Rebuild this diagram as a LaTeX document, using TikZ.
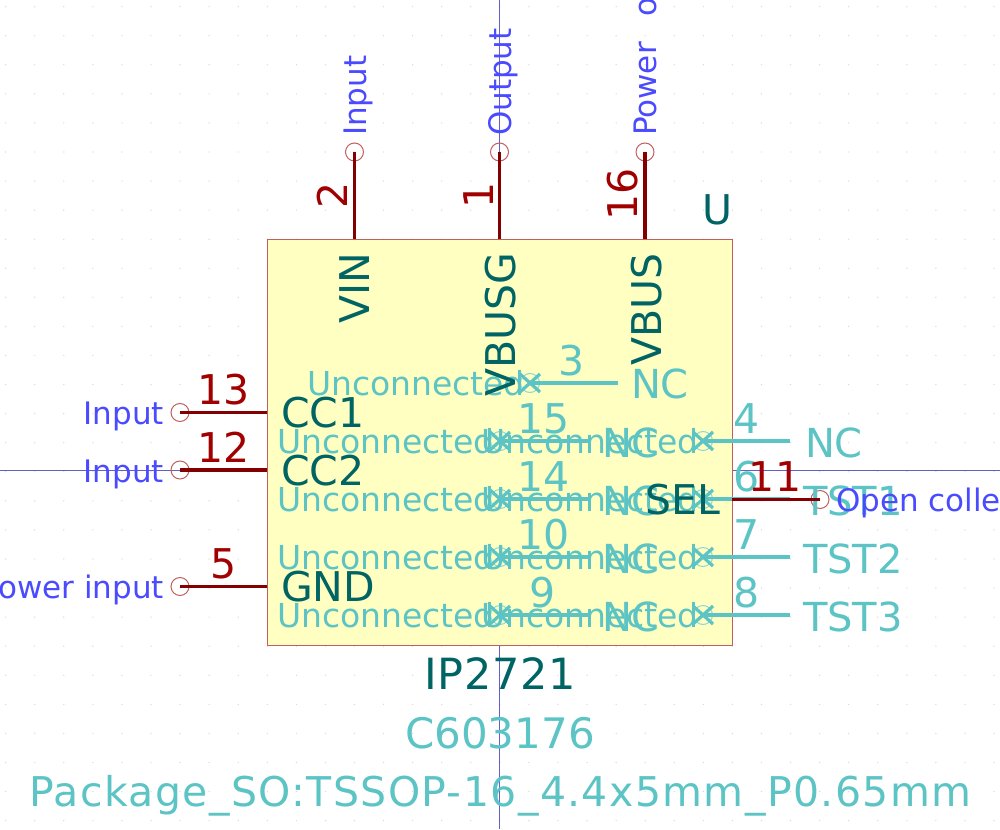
\documentclass[tikz,border=0pt]{standalone}
\usepackage{fontspec}
\setmainfont{DejaVu Sans}
\newfontfamily\widefont[LetterSpace=3.4]{DejaVu Sans}
\newfontfamily\midfont[LetterSpace=1.5]{DejaVu Sans}
\newcommand\fs[1]{\fontsize{#1}{#1}\selectfont}
\definecolor{pinred}{HTML}{840000}
\definecolor{numred}{HTML}{A00000}
\definecolor{cyn}{HTML}{5CC4C4}
\definecolor{teal2}{HTML}{006464}
\definecolor{blu}{HTML}{4A4AFF}
\definecolor{axisb}{HTML}{6060C8}
\definecolor{bodyf}{HTML}{FFFFC2}
\definecolor{bodyl}{HTML}{C06060}
\definecolor{griddot}{HTML}{D8D8D8}
\tikzset{
  lbl/.style={inner sep=0pt,outer sep=0pt},
  uncon/.style={lbl,anchor=base west,text=cyn,font=\fs{33}},
  etype/.style={lbl,text=blu,font=\fs{31}},
  pinname/.style={lbl,text=teal2,font=\fs{41}},
  nc/.style={lbl,anchor=base west,text=cyn,font=\fs{40}},
  numr/.style={lbl,anchor=base,text=numred,font=\fs{41}},
  numc/.style={lbl,anchor=base,text=cyn,font=\fs{41}},
  pinend/.style={circle,draw=bodyl,line width=1pt,minimum size=18pt,inner sep=0pt},
  redpin/.style={draw=pinred,line width=3.6pt},
  cyanpin/.style={draw=cyn,line width=3.2pt},
  xmark/.style={draw=cyn,line width=3.2pt},
  xcirc/.style={circle,draw=cyn!70,line width=1pt,minimum size=19pt,inner sep=0pt},
  axisl/.style={draw=axisb,line width=0.9pt},
}
\newcommand\xat[1]{\draw[xmark] ([shift={(-10pt,-9pt)}]#1.center) -- ([shift={(10pt,9pt)}]#1.center) ([shift={(-10pt,9pt)}]#1.center) -- ([shift={(10pt,-9pt)}]#1.center);}
\begin{document}
\begin{tikzpicture}[x=1pt,y=-1pt]
\useasboundingbox (0,0) rectangle (1000,829);
\clip (0,0) rectangle (1000,829);
\fill[white] (0,0) rectangle (1000,829);
% grid
\foreach \i in {0,...,34}{\foreach \j in {0,...,28}{
  \fill[griddot] ({5.66+\i*29.07},{6.65+\j*29.07}) circle (0.7pt);}}
% origin axes
\coordinate (axT) at (499.5,0); \coordinate (axB) at (499.5,829);
\coordinate (axL) at (0,470); \coordinate (axR) at (1000,470);
\draw[axisl] (axT) -- (axB);
\draw[axisl] (axL) -- (axR);
% body
\node[draw=bodyl,fill=bodyf,line width=1pt,minimum width=465pt,minimum height=406pt,inner sep=0pt] (body) at (499.5,442) {};
% pin anchors on the body
\coordinate (b2) at (354.5,239); \coordinate (b1) at (499.5,239); \coordinate (b16) at (645,239);
\coordinate (b13) at (267,412.5); \coordinate (b12) at (267,470); \coordinate (b5) at (267,586.5);
\coordinate (b11) at (732,499.5);
% pin ends
\node[pinend] (p2) at (354.5,152) {};
\node[pinend] (p1) at (499.5,152) {};
\node[pinend] (p16) at (645,152) {};
\node[pinend] (p13) at (180,412.5) {};
\node[pinend] (p12) at (180,470) {};
\node[pinend] (p5) at (180,586.5) {};
\node[pinend] (p11) at (820,499.5) {};
% unconnected pins
\foreach \n/\xa/\xb/\yy in {3/530/618/383,15/500/588/441,14/500/588/499,10/500/588/557,9/500/588/615,4/703/790/441,6/703/790/499,7/703/790/557,8/703/790/615}{
  \node[xcirc] (x\n) at (\xa,\yy) {};
  \coordinate (e\n) at (\xb,\yy);
  \draw[cyanpin] (x\n.center) -- (e\n);
  \xat{x\n}
}
% unconnected labels
\node[uncon] (u3) at (307,395) {Unconnected};
\foreach \nn/\yy in {15/453,14/511,10/569,9/627}{
  \node[uncon] (ul\nn) at (277,\yy) {Unconnected};
  \node[uncon] (ur\nn) at (481,\yy) {Unconnected};
}
% NC and test names
\node[nc] (nc3) at (631,398) {NC};
\foreach \nn/\yy in {15/457,14/515,10/573,9/631}{\node[nc] (nc\nn) at (602,\yy) {NC};}
\node[nc] (nc4) at (805,457) {NC};
\node[nc] (t1) at (803,515) {TST1};
\node[nc] (t2) at (803,573) {TST2};
\node[nc] (t3) at (803,631) {TST3};
% cyan numbers
\node[numc] (n3) at (572,375) {3};
\node[numc] (n15) at (544,433) {15};
\node[numc] (n14) at (544,491) {14};
\node[numc] (n10) at (544,549) {10};
\node[numc] (n9) at (543,607) {9};
\node[numc] (n4) at (747,433) {4};
\node[numc] (n6) at (747,491) {6};
\node[numc] (n7) at (747,549) {7};
\node[numc] (n8) at (747,607) {8};
% connected pins
\foreach \n in {2,1,16,13,12,5,11}{\draw[redpin] (p\n.center) -- (b\n);}
\node[numr,rotate=90] (n2) at (347,195) {2};
\node[numr,rotate=90] (n1) at (493,195) {1};
\node[numr,rotate=90] (n16) at (637,194) {16};
\node[numr] (n13) at (224,404) {13};
\node[numr] (n12) at (224,462) {12};
\node[numr] (n5) at (224,578) {5};
\node[numr] (n11) at (775,491) {11};
% pin names
\node[pinname,anchor=base east,rotate=90] (vin) at (369,253) {VIN};
\node[pinname,anchor=base east,rotate=90] (vbusg) at (515,253) {VBUSG};
\node[pinname,anchor=base east,rotate=90] (vbus) at (661,253) {VBUS};
\node[pinname,anchor=base west] (cc1) at (281,427) {CC1};
\node[pinname,anchor=base west] (cc2) at (281,485) {CC2};
\node[pinname,anchor=base west] (gnd) at (281,601) {GND};
\node[pinname,anchor=base east] (sel) at (720,514) {SEL};
% electrical types
\node[etype,anchor=base west,rotate=90] (ti2) at (366,136) {Input};
\node[etype,anchor=base west,rotate=90] (to1) at (511,136) {Output};
\node[etype,anchor=base west,rotate=90] (tp16) at (656,136) {Power\kern16pt\ output};
\node[etype,anchor=base east] (ti13) at (164,424) {Input};
\node[etype,anchor=base east] (ti12) at (164,482) {Input};
\node[etype,anchor=base east] (tp5) at (164,598) {Power input};
\node[etype,anchor=base west] (to11) at (836,511) {Open collector};
% fields
\node[pinname,anchor=base west] (ref) at (702,224) {U};
\node[lbl,anchor=base,text=teal2,font=\midfont\fs{43}] (val) at (500,689) {IP2721};
\node[lbl,anchor=base,text=cyn,font=\fs{42}] (lcsc) at (500,748) {C603176};
\node[lbl,anchor=base,text=cyn,font=\widefont\fs{41}] (fp) at (500.5,806) {Package\_SO:TSSOP-16\_4.4x5mm\_P0.65mm};
\end{tikzpicture}
\end{document}
